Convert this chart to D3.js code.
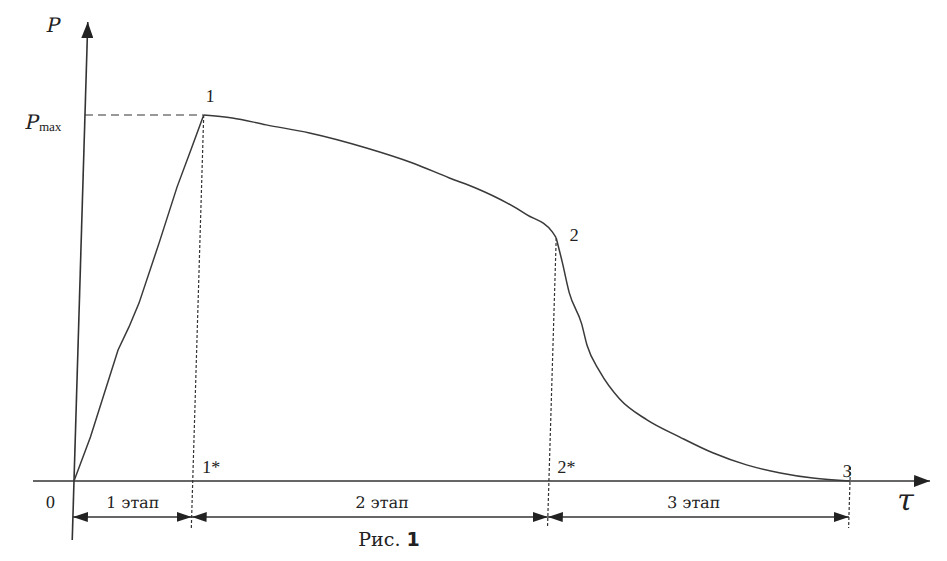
<!DOCTYPE html>
<html>
<head>
<meta charset="utf-8">
<script src="https://cdn.jsdelivr.net/npm/d3@7"></script>
<style>
  body { margin: 0; background: #fff; }
  svg { display: block; }
  text { font-family: "Liberation Serif", "DejaVu Serif", serif; fill: #222; }
  .cyr { font-family: "DejaVu Serif", serif; }
</style>
</head>
<body>
<script>
// boundaries of the stages on the time axis (points 0, 1, 2, 3)
const stageTau = [0, 15.3, 61.2, 100];
const pointLabels = ["1", "2", "3"];
const footLabels = ["0", "1*", "2*"];
const stageLabels = ["1 этап", "2 этап", "3 этап"];

// stage 1: rise to Pmax
const tauRise = [0, 1.95, 5.17, 6.49, 7.69, 10.04, 12.14, 13.92, 15.3];
const pRise = [0, 0.12, 0.358, 0.421, 0.486, 0.65, 0.803, 0.913, 1.0];
// stage 2: slow drop
const tauHold = [15.3, 19.0, 23.4, 29.0, 36.4, 42.4, 47.2, 50.7, 54.7, 57.3, 60.7, 61.2];
const pHold = [1.0, 0.992, 0.973, 0.951, 0.91, 0.869, 0.828, 0.8, 0.76, 0.728, 0.68, 0.664];
// stage 3: fast decay
const tauFall = [61.2, 62.1, 63.1, 64.8, 65.6, 67.3, 70.0, 73.6, 77.9, 82.2, 86.6, 91.0, 95.2, 100];
const pFall = [0.664, 0.596, 0.514, 0.43, 0.37, 0.3, 0.224, 0.167, 0.12, 0.077, 0.044, 0.022, 0.008, 0];

const width = 947, height = 561;
const x = d3.scaleLinear().domain([0, 100]).range([74, 850]);
const y = d3.scaleLinear().domain([0, 1]).range([481, 115]);

const svg = d3.select("body").append("svg")
  .attr("width", width).attr("height", height);

const defs = svg.append("defs");
defs.append("marker")
  .attr("id", "axisArrow")
  .attr("viewBox", "0 -6 16 12")
  .attr("refX", 16).attr("refY", 0)
  .attr("markerWidth", 16).attr("markerHeight", 12)
  .attr("markerUnits", "userSpaceOnUse")
  .attr("orient", "auto")
  .append("path").attr("d", "M0,-6L16,0L0,6Z").attr("fill", "#222");
defs.append("marker")
  .attr("id", "dimArrow")
  .attr("viewBox", "0 -5 15 10")
  .attr("refX", 15).attr("refY", 0)
  .attr("markerWidth", 15).attr("markerHeight", 10)
  .attr("markerUnits", "userSpaceOnUse")
  .attr("orient", "auto-start-reverse")
  .append("path").attr("d", "M0,-5L15,0L0,5Z").attr("fill", "#222");

// the scan is slightly skewed: tops lean to the right
const y0 = y(0);
const skew = -Math.atan(0.03) * 180 / Math.PI;
const g = svg.append("g")
  .attr("transform", `translate(0,${y0}) skewX(${skew}) translate(0,${-y0})`);

// axes
g.append("line")
  .attr("x1", 33).attr("x2", 930).attr("y1", y0).attr("y2", y0)
  .attr("stroke", "#333").attr("stroke-width", 1.6)
  .attr("marker-end", "url(#axisArrow)");
g.append("line")
  .attr("x1", x(0)).attr("x2", x(0)).attr("y1", 540).attr("y2", 22)
  .attr("stroke", "#333").attr("stroke-width", 1.6)
  .attr("marker-end", "url(#axisArrow)");

// Pmax guide
g.append("line")
  .attr("x1", x(0)).attr("x2", x(stageTau[1]))
  .attr("y1", y(1)).attr("y2", y(1))
  .attr("stroke", "#333").attr("stroke-width", 1.2)
  .attr("stroke-dasharray", "8,5");

// vertical dotted guides
const guideTop = [y(1), y(pHold[pHold.length - 1]), y(0) - 14];
stageTau.slice(1).forEach((t, i) => {
  g.append("line")
    .attr("x1", x(t)).attr("x2", x(t))
    .attr("y1", guideTop[i]).attr("y2", 528)
    .attr("stroke", "#333").attr("stroke-width", 1.2)
    .attr("stroke-dasharray", "3,2");
});

// curve: stage 1 nearly straight, stages 2-3 smooth
const lineStraight = d3.line()
  .x((d) => x(d[0]))
  .y((d) => y(d[1]));
const lineSmooth = d3.line()
  .x((d) => x(d[0]))
  .y((d) => y(d[1]))
  .curve(d3.curveMonotoneX);
[[tauRise, pRise, lineStraight], [tauHold, pHold, lineSmooth], [tauFall, pFall, lineSmooth]]
  .forEach(([ts, ps, gen]) => {
    g.append("path")
      .datum(ts.map((t, i) => [t, ps[i]]))
      .attr("d", gen)
      .attr("fill", "none")
      .attr("stroke", "#3a3a3a")
      .attr("stroke-width", 1.5);
  });

// dimension lines for the stages
const dimY = 517;
const labelShift = [0, 12, -5];
for (let i = 0; i < 3; i++) {
  g.append("line")
    .attr("x1", x(stageTau[i])).attr("x2", x(stageTau[i + 1]))
    .attr("y1", dimY).attr("y2", dimY)
    .attr("stroke", "#333").attr("stroke-width", 1.5)
    .attr("marker-start", "url(#dimArrow)")
    .attr("marker-end", "url(#dimArrow)");
  g.append("text")
    .attr("class", "cyr")
    .attr("x", (x(stageTau[i]) + x(stageTau[i + 1])) / 2 + labelShift[i])
    .attr("y", 508)
    .attr("text-anchor", "middle")
    .attr("font-size", 16)
    .text(stageLabels[i]);
}

// point labels
const pointP = [1, pHold[pHold.length - 1], 0];
const pointDx = [6, 18, -3];
const pointDy = [-13, 3, -4];
pointLabels.forEach((lab, i) => {
  g.append("text")
    .attr("x", x(stageTau[i + 1]) + pointDx[i])
    .attr("y", y(pointP[i]) + pointDy[i])
    .attr("text-anchor", "middle")
    .attr("font-size", 18)
    .text(lab);
});

// labels at the foot of the guides
g.append("text").attr("x", x(0) - 23).attr("y", 508)
  .attr("text-anchor", "middle").attr("font-size", 18).text(footLabels[0]);
g.append("text").attr("x", x(stageTau[1]) + 9).attr("y", 473)
  .attr("font-size", 18).text(footLabels[1]);
g.append("text").attr("x", x(stageTau[2]) + 8).attr("y", 473)
  .attr("font-size", 18).text(footLabels[2]);

// axis names
g.append("text").attr("class", "cyr").attr("x", 40).attr("y", 32)
  .attr("text-anchor", "middle").attr("font-size", 20)
  .attr("font-style", "italic").text("P");
const pm = g.append("text").attr("x", 15).attr("y", 129)
  .attr("font-size", 20);
pm.append("tspan").attr("class", "cyr").attr("font-style", "italic").text("P");
pm.append("tspan").attr("font-size", 13).attr("dy", 2).text("max");
g.append("text").attr("class", "cyr").attr("x", 906).attr("y", 510)
  .attr("text-anchor", "middle").attr("font-size", 30)
  .attr("font-style", "italic").text("τ");

// caption
const cap = svg.append("text").attr("x", 389).attr("y", 546)
  .attr("text-anchor", "middle").attr("font-size", 19);
cap.append("tspan").attr("class", "cyr").text("Рис. ");
cap.append("tspan").attr("font-family", "'DejaVu Sans', sans-serif")
  .attr("font-weight", "bold").text("1");
</script>
</body>
</html>
